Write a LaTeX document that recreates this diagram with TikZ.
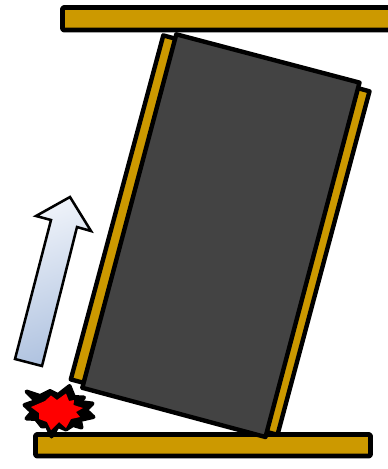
\documentclass[tikz,border=0pt]{standalone}
\usepackage{tikz}
\usetikzlibrary{calc}
\definecolor{platebrown}{HTML}{CC9900}
\definecolor{blockgrey}{HTML}{434343}
\definecolor{arrowlight}{HTML}{EEF2F9}
\definecolor{arrowdark}{HTML}{B0C3E0}

\begin{document}
\begin{tikzpicture}[
    x=0.75pt, y=-0.75pt,
    bar/.style={draw=black, line width=3.5pt, fill=platebrown, rounded corners=0.8pt, line join=round},
    plate/.style={draw=black, line width=3.3pt, fill=platebrown, line join=round},
    block/.style={draw=black, line width=3.3pt, fill=blockgrey, line join=round},
    lift/.style={draw=black, line width=1.9pt, top color=arrowlight, bottom color=arrowdark, shading angle=20, line join=miter},
    bangout/.style={draw=black, line width=3pt, fill=black, line join=round},
    bangin/.style={fill=red},
]
    \useasboundingbox (0,0) rectangle (388,469);
    \clip (0,0) rectangle (388,469);

    % top and bottom bars
    \draw [bar] (62.5,7.5) rectangle (392,30);
    \draw [bar] (35.5,434.5) rectangle (370.5,456);

    % tilted plate and block
    \draw [plate] (163.3,35.4) -- (369.5,91.3) -- (277.5,434.8) -- (70.8,379.4) -- cycle;
    \draw [block] (176.3,34.3) -- (359.5,82.6) -- (265.5,437) -- (82.3,387.8) -- cycle;

    % lift arrow
    \draw [lift] (70,197) -- (91,231) -- (77,227) -- (42,366) -- (15,359) -- (51,220) -- (36,216) -- cycle;

    % impact
    \draw [bangout] (26.5,391.5) -- (40,396) -- (50,391) -- (58,395) -- (69.5,386) -- (74,397) -- (84,397.5)
        -- (80,402) -- (92.5,403.5) -- (86,410) -- (93.5,417) -- (80,420) -- (81.5,427.5) -- (73,425)
        -- (66,429.5) -- (58,426) -- (51.5,436.5) -- (47,426) -- (42,426.5) -- (36,419) -- (26.5,418.5)
        -- (32,412) -- (24.5,405) -- (36,401) -- cycle;
    \fill [bangin] (31,407) -- (45,401) -- (51,395.5) -- (57,400) -- (66,393.5) -- (69,401) -- (74,400)
        -- (73.5,405) -- (83,408) -- (76,412) -- (80,417) -- (71,419) -- (66,428) -- (59,422)
        -- (51,430) -- (47,422) -- (39,419) -- (39,413) -- cycle;
\end{tikzpicture}
\end{document}
